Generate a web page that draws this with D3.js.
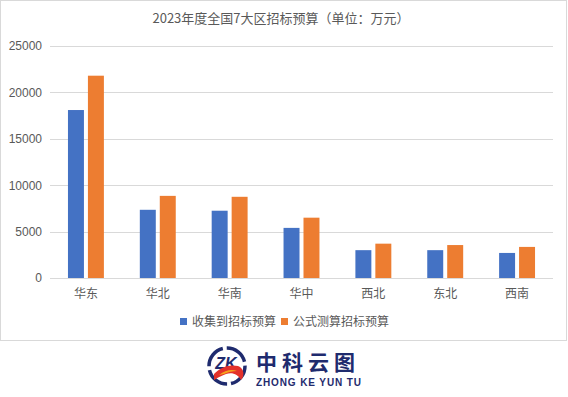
<!DOCTYPE html>
<html>
<head>
<meta charset="utf-8">
<script src="https://cdn.jsdelivr.net/npm/d3@7"></script>
<style>
  body { margin: 0; background: #fff; }
  text { font-family: "Noto Sans CJK SC", "Liberation Sans", sans-serif; }
</style>
</head>
<body>
<svg width="568" height="397"></svg>
<script>
var regions = ["华东", "华北", "华南", "华中", "西北", "东北", "西南"];
var collected = [18100, 7350, 7250, 5400, 3000, 3000, 2700];
var estimated = [21800, 8850, 8750, 6500, 3700, 3550, 3350];
var seriesNames = ["收集到招标预算", "公式测算招标预算"];
var yTicks = [0, 5000, 10000, 15000, 20000, 25000];

var svg = d3.select("svg"),
    margin = {top: 46, right: 15, bottom: 119, left: 50},
    width = 568 - margin.left - margin.right,
    height = 397 - margin.top - margin.bottom;

var z = d3.scaleOrdinal().domain(seriesNames).range(["#4472C4", "#ED7D31"]);

// chart frame
svg.append("rect")
    .attr("x", 0.5).attr("y", 0.5)
    .attr("width", 566).attr("height", 340)
    .attr("fill", "#fff")
    .attr("stroke", "#d9d9d9");

svg.append("text")
    .attr("x", 281).attr("y", 22.5)
    .attr("text-anchor", "middle")
    .attr("font-size", 13)
    .attr("fill", "#595959")
    .text("2023年度全国7大区招标预算（单位：万元）");

var g = svg.append("g").attr("transform", "translate(" + margin.left + "," + margin.top + ")");

var x0 = d3.scaleBand().domain(regions).range([0, 503]).paddingInner(0.5).paddingOuter(0.25);
var x1 = d3.scaleBand().domain(seriesNames).range([0, x0.bandwidth()]).paddingInner(0.2);
var y = d3.scaleLinear().domain([0, 25000]).range([232, 0]);

// gridlines
g.append("g")
  .selectAll("line")
  .data(yTicks)
  .enter().append("line")
    .attr("x1", 0).attr("x2", 503)
    .attr("y1", function(d) { return Math.round(y(d)) + 0.5; })
    .attr("y2", function(d) { return Math.round(y(d)) + 0.5; })
    .attr("stroke", "#d9d9d9");

var yAxis = g.append("g")
    .call(d3.axisLeft(y).tickValues(yTicks).tickSize(0).tickPadding(8).tickFormat(d3.format("d")));
yAxis.select(".domain").remove();
yAxis.selectAll("text")
    .attr("font-size", 12)
    .attr("fill", "#595959")
    .style("font-family", "'Liberation Sans', sans-serif");

var data = regions.map(function(r, i) {
  return {region: r, values: [collected[i], estimated[i]]};
});

g.append("g")
  .selectAll("g")
  .data(data)
  .enter().append("g")
    .attr("transform", function(d) { return "translate(" + x0(d.region) + ",0)"; })
  .selectAll("rect")
  .data(function(d) { return seriesNames.map(function(k, j) { return {key: k, value: d.values[j]}; }); })
  .enter().append("rect")
    .attr("x", function(d) { return x1(d.key); })
    .attr("y", function(d) { return y(d.value); })
    .attr("width", x1.bandwidth())
    .attr("height", function(d) { return y(0) - y(d.value); })
    .attr("fill", function(d) { return z(d.key); });

var xAxis = g.append("g")
    .attr("transform", "translate(0,232)")
    .call(d3.axisBottom(x0).tickSize(0).tickPadding(11));
xAxis.select(".domain").remove();
xAxis.selectAll("text")
    .attr("font-size", 12)
    .attr("fill", "#595959");

// legend
var legend = svg.append("g")
    .attr("font-size", 12)
    .selectAll("g")
    .data(seriesNames)
    .enter().append("g")
      .attr("transform", function(d, i) { return "translate(" + (i === 0 ? 180 : 281) + ",318)"; });

legend.append("rect")
    .attr("width", 7).attr("height", 7)
    .attr("fill", z);

legend.append("text")
    .attr("x", 12).attr("y", 3.5)
    .attr("dy", "0.35em")
    .attr("fill", "#595959")
    .text(function(d) { return d; });

// logo
var navy = "#1f2b6e";
var logo = svg.append("g");
logo.append("circle")
    .attr("cx", 227).attr("cy", 366).attr("r", 18)
    .attr("fill", "none")
    .attr("stroke", navy)
    .attr("stroke-width", 3.5)
    .attr("stroke-dasharray", "24 4");
logo.append("text")
    .attr("x", 226).attr("y", 369)
    .attr("text-anchor", "middle")
    .attr("font-size", 16)
    .attr("font-weight", "bold")
    .attr("font-style", "italic")
    .attr("fill", navy)
    .style("font-family", "'Liberation Sans', sans-serif")
    .text("ZK");
logo.append("path")
    .attr("d", "M214 374 C220 367 230 364 238 366 C244 368 245 376 241 380 C238 374 232 372 226 374 C221 376 217 378 214 380 Z")
    .attr("fill", "#e3312b");
logo.append("path")
    .attr("d", "M219 375 C225 370 232 369 237 371 C233 371 228 372 224 374 Z")
    .attr("fill", "#f7a21b");
logo.append("text")
    .attr("x", 256).attr("y", 370)
    .attr("font-size", 21)
    .attr("font-weight", "bold")
    .attr("letter-spacing", 5)
    .attr("fill", navy)
    .text("中科云图");
logo.append("text")
    .attr("x", 256).attr("y", 385.5)
    .attr("font-size", 10)
    .attr("font-weight", "bold")
    .attr("fill", navy)
    .attr("textLength", 105)
    .style("font-family", "'Liberation Sans', sans-serif")
    .text("ZHONG KE YUN TU");
</script>
</body>
</html>
